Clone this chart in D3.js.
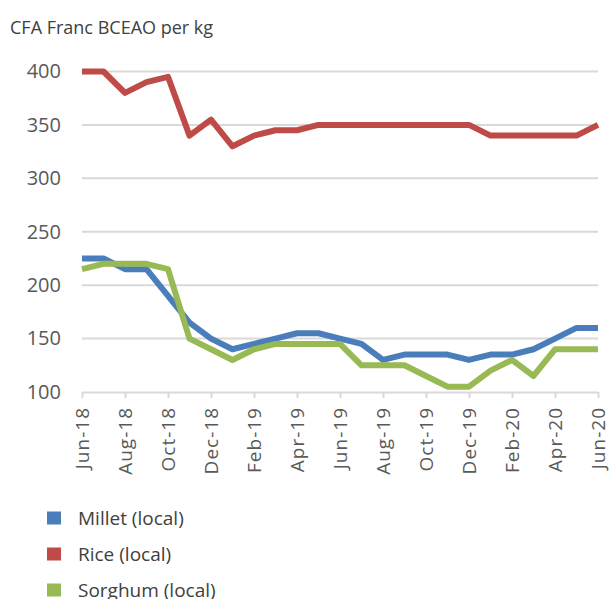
<!DOCTYPE html>
<html>
<head>
<meta charset="utf-8">
<script src="https://cdn.jsdelivr.net/npm/d3@7"></script>
<style>
  body { margin: 0; background: #fff; }
  svg text { font-family: "Open Sans", "Noto Sans", sans-serif; fill: #595959; }
</style>
</head>
<body>
<script>
// monthly prices, Jun-18 .. Jun-20
var months = ["Jun-18","Jul-18","Aug-18","Sep-18","Oct-18","Nov-18","Dec-18",
  "Jan-19","Feb-19","Mar-19","Apr-19","May-19","Jun-19","Jul-19","Aug-19","Sep-19",
  "Oct-19","Nov-19","Dec-19","Jan-20","Feb-20","Mar-20","Apr-20","May-20","Jun-20"]
var millet = [225,225,215,215,190,165,150,140,145,150,155,155,150,145,130,135,135,135,130,135,135,140,150,160,160]
var rice = [400,400,380,390,395,340,355,330,340,345,345,350,350,350,350,350,350,350,350,340,340,340,340,340,350]
var sorghum = [215,220,220,220,215,150,140,130,140,145,145,145,145,125,125,125,115,105,105,120,130,115,140,140,140]
var yTicks = [100,150,200,250,300,350,400]
var seriesNames = ["Millet (local)", "Rice (local)", "Sorghum (local)"]
var colors = ["#4a7ebb", "#be4b48", "#98b954"]

var w = 609, h = 599
var svg = d3.select("body").append("svg").attr("width", w).attr("height", h)

var x = d3.scalePoint().domain(months).range([82, 598])
var y = d3.scaleLinear().domain([100, 400]).range([392, 71.5])

svg.append("text").attr("x", 10).attr("y", 28).attr("dy", "0.35em")
  .style("font-size", "18px").style("fill", "#404040")
  .text("CFA Franc BCEAO per kg")

// gridlines
svg.append("g").selectAll("line").data(yTicks.slice(1)).enter()
  .append("line")
  .attr("x1", 82).attr("x2", 598)
  .attr("y1", function (d) { return y(d) }).attr("y2", function (d) { return y(d) })
  .attr("stroke", "#d9d9d9").attr("stroke-width", 2)

var yAxis = d3.axisLeft(y).tickValues(yTicks).tickSize(0).tickPadding(21)
var gy = svg.append("g").attr("transform", "translate(82,0)").call(yAxis)
gy.select(".domain").remove()
gy.selectAll("text").style("font-size", "20px").attr("font-size", null)

var xAxis = d3.axisBottom(x)
  .tickValues(months.filter(function (d, i) { return i % 2 == 0 }))
  .tickSize(6).tickSizeOuter(0)
var gx = svg.append("g").attr("transform", "translate(0,392)").call(xAxis)
gx.select(".domain").attr("stroke", "#d9d9d9").attr("stroke-width", 2)
gx.selectAll(".tick line").attr("stroke", "#d9d9d9").attr("stroke-width", 2)
gx.selectAll("text")
  .style("font-size", "19px").style("letter-spacing", "1px")
  .attr("transform", "rotate(-90)")
  .attr("text-anchor", "end")
  .attr("x", -15).attr("y", 0).attr("dy", "0.35em")

var line = d3.line()
  .x(function (d, i) { return x(months[i]) })
  .y(function (d) { return y(d) })

var data = [millet, rice, sorghum]
svg.append("g").selectAll("path").data(data).enter()
  .append("path")
  .attr("d", line)
  .attr("fill", "none")
  .attr("stroke", function (d, i) { return colors[i] })
  .attr("stroke-width", 6)
  .attr("stroke-linejoin", "round")

var legend = svg.append("g").selectAll("g").data(seriesNames).enter()
  .append("g")
  .attr("transform", function (d, i) { return "translate(0," + (518 + i * 36) + ")" })
legend.append("rect").attr("x", 47).attr("y", -6.5).attr("width", 14).attr("height", 13)
  .attr("fill", function (d, i) { return colors[i] })
legend.append("text").attr("x", 78).attr("dy", "0.35em")
  .style("font-size", "19px").style("fill", "#404040")
  .text(function (d) { return d })
</script>
</body>
</html>
